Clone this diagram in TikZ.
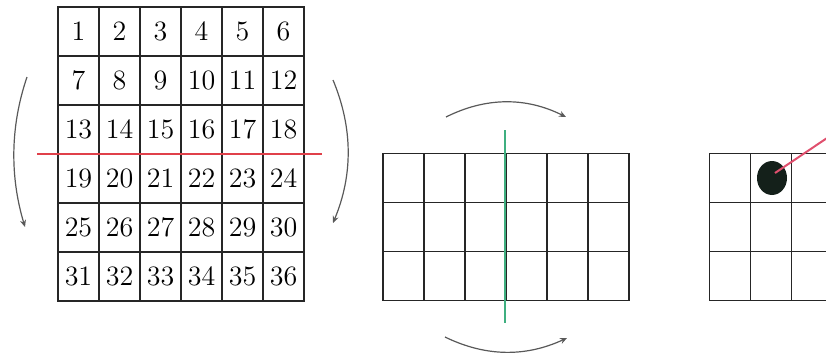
\documentclass[tikz,border=0pt]{standalone}
\usetikzlibrary{arrows.meta, shapes.geometric}
\definecolor{cutred}{HTML}{E0404A}
\definecolor{cutgreen}{HTML}{3FAF80}
\definecolor{cuepink}{HTML}{E0506E}
\definecolor{balldark}{HTML}{14201A}

\begin{document}
\begin{tikzpicture}[
		x=0.5pt, y=-0.5pt,
		font=\fontsize{14}{16}\selectfont,
		% --- grid cells ---
		cell/.style = {draw=black!85, line width=0.6pt, minimum width=20.5pt, minimum height=24.5pt, inner sep=0pt},
		% --- symmetry axes ---
		axis_red/.style = {draw=cutred, line width=1pt},
		axis_green/.style = {draw=cutgreen, line width=1.1pt},
		cue/.style = {draw=cuepink, line width=1pt},
		% --- rotation arcs ---
		turn/.style = {draw=black!65, line width=0.6pt, -{Stealth[length=3.5pt, width=3pt]}},
		ball/.style = {ellipse, fill=balldark, minimum width=15pt, minimum height=17pt, inner sep=0pt}
		]
		\clip (0,0) rectangle (826,359);
		
		% =====================================================
		% 1. numbered 6x6 board
		% =====================================================
		\foreach \r in {0,...,5}
		\foreach \c in {0,...,5} {
			\pgfmathtruncatemacro{\n}{6*\r+\c+1}
			\node[cell] (a\n) at (78.5+41*\c, 31.5+49*\r) {\n};
		}
		
		% horizontal cut and flip arrows
		\coordinate (redL) at (37,154);
		\coordinate (redR) at (322,154);
		\draw[axis_red] (redL) -- (redR);
		
		\coordinate (lt) at (27,77);
		\coordinate (lb) at (25,227);
		\coordinate (rt) at (333,80);
		\coordinate (rb) at (333,223);
		\draw[turn] (lt) .. controls (10,127) and (10,177) .. (lb);
		\draw[turn] (rt) .. controls (353,128) and (353,175) .. (rb);
		
		% =====================================================
		% 2. empty 6x3 board with vertical axis
		% =====================================================
		\foreach \r in {0,1,2}
		\foreach \c in {0,...,5}
		\node[cell] (b\r\c) at (403.5+41*\c, 178+49*\r) {};
		
		\coordinate (greenT) at (505,130);
		\coordinate (greenB) at (505,323);
		\draw[axis_green] (greenT) -- (greenB);
		
		\coordinate (tl) at (446,117);
		\coordinate (tr) at (566,117);
		\coordinate (bl) at (445,337);
		\coordinate (br) at (567,338);
		\draw[turn] (tl) .. controls (486,97) and (526,97) .. (tr);
		\draw[turn] (bl) .. controls (486,357) and (526,357) .. (br);
		
		% =====================================================
		% 3. partial board with ball
		% =====================================================
		\foreach \r in {0,1,2}
		\foreach \c in {0,1,2}
		\node[cell] (c\r\c) at (730+41*\c, 178+49*\r) {};
		
		\node[ball] (stone) at (772,178) {};
		\coordinate (cueEnd) at (836,132);
		\draw[cue] ([shift={(3,-5)}]stone.center) -- (cueEnd);
		
	\end{tikzpicture}
\end{document}
